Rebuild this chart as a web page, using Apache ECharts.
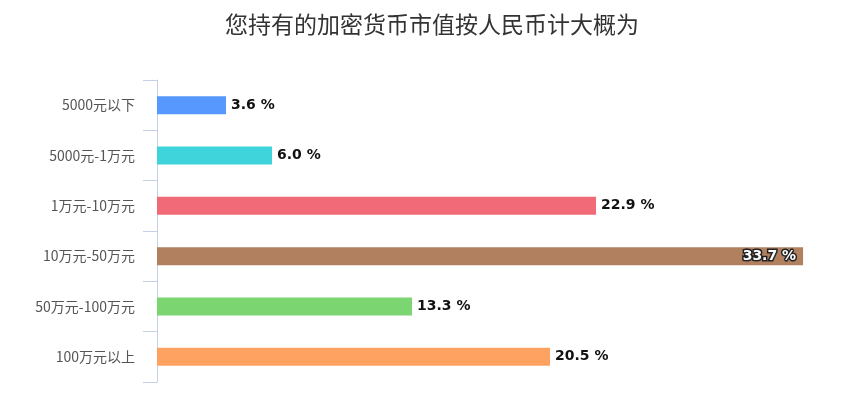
<!DOCTYPE html>
<html><head><meta charset="utf-8">
<script src="https://cdn.jsdelivr.net/npm/echarts@6/dist/echarts.min.js"></script>
<style>body{margin:0}#c{width:864px;height:402px}</style>
</head><body><div id="c"></div>
<script>
const categories = ['5000元以下', '5000元-1万元', '1万元-10万元', '10万元-50万元', '50万元-100万元', '100万元以上'];
const values = [3.6, 6.0, 22.9, 33.7, 13.3, 20.5];
const colors = ['#5698fd', '#3fd4dc', '#f06a78', '#b0805f', '#7bd571', '#fea262'];

const chart = echarts.init(document.getElementById('c'));

// biggest bar gets its label inside, in white with dark outline
const maxVal = Math.max(...values);
const data = values.map((v, i) => {
    const d = {value: v, itemStyle: {color: colors[i]}};
    if (v === maxVal) {
        d.label = {position: 'insideRight', color: '#fff', textBorderColor: '#222', textBorderWidth: 3, offset: [-2, 0]};
    }
    return d;
});

chart.setOption({
    title: {
        text: '您持有的加密货币市值按人民币计大概为',
        left: 'center', top: 8,
        textStyle: {fontSize: 23, fontWeight: 'normal', color: '#333', fontFamily: 'Noto Sans CJK SC'}
    },
    grid: {left: 157, right: 36, top: 80, bottom: 20},
    xAxis: {type: 'value', min: 0, max: 35, show: false},
    yAxis: {
        type: 'category',
        inverse: true,
        data: categories,
        axisLine: {show: true, lineStyle: {color: '#c5d0ea'}},
        axisTick: {show: true, length: 14, lineStyle: {color: '#c5d0ea'}},
        axisLabel: {fontSize: 14, color: '#555', margin: 22, fontFamily: 'Noto Sans CJK SC'}
    },
    series: [{
        type: 'bar',
        data: data,
        barWidth: 18,
        label: {
            show: true, position: 'right',
            formatter: p => p.value.toFixed(1) + ' %',
            fontWeight: 'bold', fontSize: 14, color: '#111', fontFamily: 'DejaVu Sans'
        }
    }]
});
</script></body></html>
